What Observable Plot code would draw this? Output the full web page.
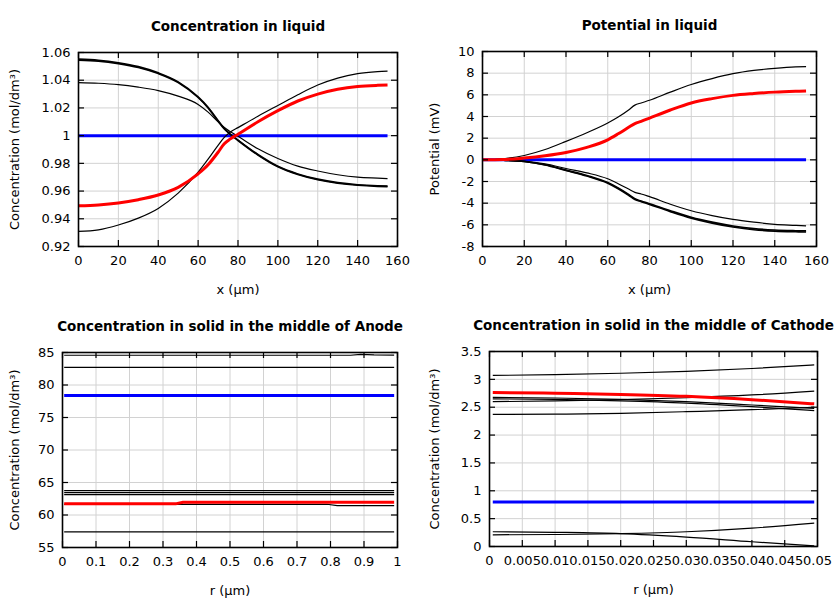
<!DOCTYPE html>
<html><head><meta charset="utf-8">
<script src="https://cdn.jsdelivr.net/npm/d3@7"></script>
<script src="https://cdn.jsdelivr.net/npm/@observablehq/plot@0.6"></script>
<style>
body{margin:0;background:#fff;}
#wrap{position:relative;width:840px;height:600px;background:#fff;}
.panel{position:absolute;width:420px;height:300px;}
</style></head><body><div id="wrap"></div>
<script>
// ---------- DATA ----------
// Liquid profiles (x in µm)
const xLiquid = [0,10,20,30,40,50,60,65,70,73,76,80,90,100,110,120,130,140,150,155];
const xLiquidEnds = [0,155];
const concLiqInitial = [1.0, 1.0];
const concLiqFinal   = [0.9494,0.9500,0.9514,0.9538,0.9572,0.9627,0.9724,0.9790,0.9880,0.9940,0.9975,1.0010,1.0100,1.0180,1.0250,1.0300,1.0335,1.0355,1.0363,1.0365];
const concLiqA = [0.9309,0.9320,0.9355,0.9405,0.9475,0.9585,0.9736,0.9830,0.9930,0.9985,1.0025,1.0058,1.0140,1.0218,1.0295,1.0365,1.0415,1.0447,1.0462,1.0466];
const concLiqB = [1.0383,1.0378,1.0368,1.0350,1.0325,1.0285,1.0225,1.0170,1.0100,1.0060,1.0030,0.9995,0.9905,0.9835,0.9780,0.9745,0.9718,0.9700,0.9693,0.9690];
const concLiqC = [1.0545,1.0538,1.0520,1.0492,1.0448,1.0383,1.0275,1.0200,1.0105,1.0050,1.0010,0.9965,0.9860,0.9775,0.9720,0.9682,0.9657,0.9642,0.9634,0.9632];
const concLiqD = [1.0552,1.0544,1.0526,1.0498,1.0453,1.0388,1.0280,1.0205,1.0110,1.0055,1.0013,0.9968,0.9864,0.9779,0.9724,0.9686,0.9661,0.9646,0.9638,0.9636];

const potLiqInitial = [0, 0];
const potLiqFinal = [0,0.03,0.17,0.38,0.68,1.15,1.85,2.40,3.00,3.35,3.55,3.85,4.60,5.25,5.65,5.95,6.12,6.25,6.33,6.36];
const potLiqA = [0,0.10,0.40,0.95,1.70,2.50,3.40,3.95,4.60,5.05,5.25,5.50,6.25,6.95,7.50,7.95,8.25,8.45,8.58,8.60];
const potLiqB = [0,-0.03,-0.12,-0.38,-0.80,-1.20,-1.75,-2.20,-2.70,-3.00,-3.15,-3.40,-4.10,-4.70,-5.15,-5.50,-5.75,-5.95,-6.05,-6.10];
const potLiqC = [0,-0.04,-0.15,-0.45,-0.95,-1.45,-2.10,-2.60,-3.20,-3.60,-3.80,-4.05,-4.70,-5.30,-5.75,-6.10,-6.35,-6.48,-6.54,-6.56];
const potLiqD = [0,-0.04,-0.16,-0.47,-0.99,-1.50,-2.16,-2.67,-3.27,-3.66,-3.86,-4.12,-4.78,-5.38,-5.84,-6.20,-6.45,-6.58,-6.64,-6.66];

// Anode solid (r in µm)
const rAnodeEnds = [0.005, 0.99];
const anodeInitial = [78.4, 78.4];
const anodeTopX = [0.005, 0.86, 0.89, 0.93, 0.99];
const anodeTop  = [84.58, 84.58, 84.72, 84.62, 84.6];
const anodeB = [82.7, 82.7];
const anodeC = [63.75, 63.75];
const anodeD = [63.45, 63.45];
const anodeE = [63.15, 63.15];
const anodeFX = [0.005, 0.79, 0.82, 0.99];
const anodeF  = [61.65, 61.65, 61.45, 61.45];
const anodeG = [57.4, 57.4];
const anodeFinalX = [0.005, 0.34, 0.36, 0.99];
const anodeFinal  = [61.75, 61.75, 61.95, 61.95];

// Cathode solid (r in µm)
const rCathode = [0.0005, 0.01, 0.02, 0.03, 0.04, 0.0495];
const rCathodeEnds = [0.0005, 0.0495];
const cathodeInitial = [0.8, 0.8];
const cathodeFinal = [2.765, 2.75, 2.73, 2.695, 2.635, 2.56];
const cathodeA = [3.07, 3.085, 3.11, 3.145, 3.195, 3.26];
const cathodeB = [2.60, 2.612, 2.635, 2.67, 2.72, 2.79];
const cathodeC = [2.675, 2.665, 2.64, 2.60, 2.54, 2.48];
const cathodeD = [2.65, 2.64, 2.615, 2.575, 2.51, 2.44];
const cathodeE = [2.37, 2.375, 2.39, 2.42, 2.455, 2.50];
const cathodeF = [0.21, 0.215, 0.232, 0.265, 0.33, 0.42];
const cathodeG = [0.265, 0.255, 0.232, 0.17, 0.085, 0.01];

// Tick values
const xTicksLiquid = [0,20,40,60,80,100,120,140,160];
const yTicksConc = [0.92,0.94,0.96,0.98,1.00,1.02,1.04,1.06];
const yTicksPot = [-8,-6,-4,-2,0,2,4,6,8,10];
const xTicksAnode = [0,0.1,0.2,0.3,0.4,0.5,0.6,0.7,0.8,0.9,1];
const yTicksAnode = [55,60,65,70,75,80,85];
const xTicksCathode = [0,0.005,0.01,0.015,0.02,0.025,0.03,0.035,0.04,0.045,0.05];
const yTicksCathode = [0,0.5,1,1.5,2,2.5,3,3.5];

// ---------- RENDER ----------
const STYLE = {
  thin:  {stroke: "black", strokeWidth: 1.2},
  thick: {stroke: "black", strokeWidth: 1.6},
  blue:  {stroke: "#0000ff", strokeWidth: 3},
  red:   {stroke: "#ff0000", strokeWidth: 3}
};
const FS = 13;

function panel(o) {
  const W = 420, H = 300;
  const fw = W - o.mL - o.mR, fh = H - o.mT - o.mB;
  const lines = o.series.map(s => Plot.line(s.y, {
    x: s.x, y: s.y, ...STYLE[s.kind], curve: o.curve || "monotone-x",
    strokeLinejoin: "round", strokeLinecap: "butt"
  }));
  const chart = Plot.plot({
    width: W, height: H,
    marginLeft: o.mL, marginRight: o.mR, marginTop: o.mT, marginBottom: o.mB,
    style: {fontFamily: "DejaVu Sans", fontSize: FS + "px", background: "white", color: "black", overflow: "visible"},
    x: {domain: o.xDomain},
    y: {domain: o.yDomain},
    marks: [
      Plot.gridX(o.xTicks, {stroke: "#d2d2d2", strokeOpacity: 1, strokeWidth: 1}),
      Plot.gridY(o.yTicks, {stroke: "#d2d2d2", strokeOpacity: 1, strokeWidth: 1}),
      ...lines,
      Plot.tickX(o.xTicks, {x: d => d, insetTop: fh - 6, stroke: "black", strokeWidth: 1.2}),
      Plot.tickX(o.xTicks, {x: d => d, insetBottom: fh - 6, stroke: "black", strokeWidth: 1.2}),
      Plot.tickY(o.yTicks, {y: d => d, insetRight: fw - 6, stroke: "black", strokeWidth: 1.2}),
      Plot.tickY(o.yTicks, {y: d => d, insetLeft: fw - 6, stroke: "black", strokeWidth: 1.2}),
      Plot.frame({stroke: "black", strokeWidth: 1.6}),
      Plot.axisX(o.xTicks, {anchor: "bottom", tickSize: 0, tickPadding: 9, tickFormat: o.xFmt, fontSize: FS, label: null}),
      Plot.axisY(o.yTicks, {anchor: "left", tickSize: 0, tickPadding: 8, tickFormat: o.yFmt, fontSize: FS, label: null}),
      Plot.text([o.title], {text: d => d, frameAnchor: "top", lineAnchor: "middle", dy: -26, fontWeight: "bold", fontSize: 13.5, fill: "black"}),
      Plot.text([o.xLabel], {text: d => d, frameAnchor: "bottom", lineAnchor: "middle", dy: 43, fontSize: FS, fill: "black"}),
      Plot.text([o.yLabel], {text: d => d, frameAnchor: "left", lineAnchor: "middle", dx: o.yLabelDx, rotate: -90, textAnchor: "middle", fontSize: FS, fill: "black"})
    ]
  });
  const div = document.createElement("div");
  div.className = "panel";
  div.style.left = o.left + "px";
  div.style.top = o.top + "px";
  div.appendChild(chart);
  document.getElementById("wrap").appendChild(div);
}

const concLabel = "Concentration (mol/dm³)";

panel({
  left: 0, top: 0, mL: 78, mR: 23, mT: 52, mB: 54,
  xDomain: [0,160], yDomain: [0.92,1.06],
  xTicks: xTicksLiquid, yTicks: yTicksConc,
  xFmt: d => String(d), yFmt: d => String(+d.toFixed(2)),
  title: "Concentration in liquid", xLabel: "x (µm)", yLabel: concLabel, yLabelDx: -64,
  series: [
    {x: xLiquidEnds, y: concLiqInitial, kind: "blue"},
    {x: xLiquid, y: concLiqA, kind: "thin"},
    {x: xLiquid, y: concLiqB, kind: "thin"},
    {x: xLiquid, y: concLiqC, kind: "thick"},
    {x: xLiquid, y: concLiqD, kind: "thick"},
    {x: xLiquid, y: concLiqFinal, kind: "red"}
  ]
});

panel({
  left: 420, top: 0, mL: 62, mR: 24, mT: 51, mB: 54,
  xDomain: [0,160], yDomain: [-8,10],
  xTicks: xTicksLiquid, yTicks: yTicksPot,
  xFmt: d => String(d), yFmt: d => String(d),
  title: "Potential in liquid", xLabel: "x (µm)", yLabel: "Potential (mV)", yLabelDx: -48,
  series: [
    {x: xLiquidEnds, y: potLiqInitial, kind: "blue"},
    {x: xLiquid, y: potLiqA, kind: "thin"},
    {x: xLiquid, y: potLiqB, kind: "thin"},
    {x: xLiquid, y: potLiqC, kind: "thick"},
    {x: xLiquid, y: potLiqD, kind: "thick"},
    {x: xLiquid, y: potLiqFinal, kind: "red"}
  ]
});

panel({
  left: 0, top: 300, mL: 62, mR: 23, mT: 52, mB: 53,
  xDomain: [0,1], yDomain: [55,85], curve: "linear",
  xTicks: xTicksAnode, yTicks: yTicksAnode,
  xFmt: d => String(d), yFmt: d => String(d),
  title: "Concentration in solid in the middle of Anode", xLabel: "r (µm)", yLabel: concLabel, yLabelDx: -48,
  series: [
    {x: rAnodeEnds, y: anodeInitial, kind: "blue"},
    {x: anodeTopX, y: anodeTop, kind: "thin"},
    {x: rAnodeEnds, y: anodeB, kind: "thin"},
    {x: rAnodeEnds, y: anodeC, kind: "thin"},
    {x: rAnodeEnds, y: anodeD, kind: "thin"},
    {x: rAnodeEnds, y: anodeE, kind: "thin"},
    {x: anodeFX, y: anodeF, kind: "thin"},
    {x: rAnodeEnds, y: anodeG, kind: "thin"},
    {x: anodeFinalX, y: anodeFinal, kind: "red"}
  ]
});

panel({
  left: 420, top: 300, mL: 69, mR: 23, mT: 51, mB: 54,
  xDomain: [0,0.05], yDomain: [0,3.5],
  xTicks: xTicksCathode, yTicks: yTicksCathode,
  xFmt: d => String(d), yFmt: d => String(d),
  title: "Concentration in solid in the middle of Cathode", xLabel: "r (µm)", yLabel: concLabel, yLabelDx: -55,
  series: [
    {x: rCathodeEnds, y: cathodeInitial, kind: "blue"},
    {x: rCathode, y: cathodeA, kind: "thin"},
    {x: rCathode, y: cathodeB, kind: "thin"},
    {x: rCathode, y: cathodeC, kind: "thin"},
    {x: rCathode, y: cathodeD, kind: "thin"},
    {x: rCathode, y: cathodeE, kind: "thin"},
    {x: rCathode, y: cathodeF, kind: "thin"},
    {x: rCathode, y: cathodeG, kind: "thin"},
    {x: rCathode, y: cathodeFinal, kind: "red"}
  ]
});
</script></body></html>
